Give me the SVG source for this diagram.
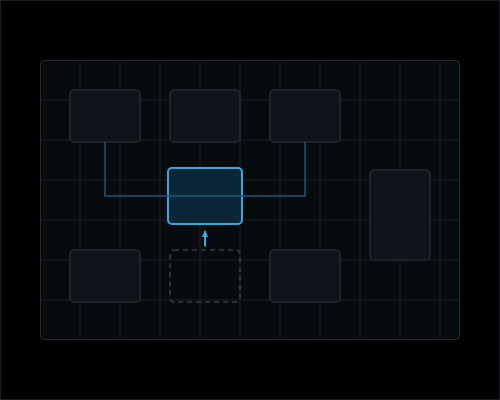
<svg xmlns="http://www.w3.org/2000/svg" width="500" height="400" viewBox="0 0 500 400">
<defs>
<style>
.node{fill:#0f141a;stroke:#252b33;stroke-width:1.5}
.grid line{stroke:#141a20;stroke-width:1.5}
.conn{fill:none;stroke:#1d5a7a;stroke-width:1.5}
</style>
<marker id="ah" viewBox="0 0 10 10" refX="5" refY="1" markerWidth="6" markerHeight="7" markerUnits="userSpaceOnUse" orient="auto-start-reverse">
<path d="M0,10 L5,0 L10,10 Z" fill="#3ba7e0"/>
</marker>
</defs>
<rect x="0.5" y="0.5" width="499" height="399" fill="#000" stroke="#1a1f25" stroke-width="1"/>
<rect x="40.5" y="60.5" width="419" height="279" rx="4" fill="#080b0e" stroke="#262b32" stroke-width="1"/>
<g class="grid">
<line x1="80" y1="61" x2="80" y2="339"/>
<line x1="120" y1="61" x2="120" y2="339"/>
<line x1="160" y1="61" x2="160" y2="339"/>
<line x1="200" y1="61" x2="200" y2="339"/>
<line x1="240" y1="61" x2="240" y2="339"/>
<line x1="280" y1="61" x2="280" y2="339"/>
<line x1="320" y1="61" x2="320" y2="339"/>
<line x1="360" y1="61" x2="360" y2="339"/>
<line x1="400" y1="61" x2="400" y2="339"/>
<line x1="440" y1="61" x2="440" y2="339"/>
<line x1="41" y1="100" x2="459" y2="100"/>
<line x1="41" y1="140" x2="459" y2="140"/>
<line x1="41" y1="180" x2="459" y2="180"/>
<line x1="41" y1="220" x2="459" y2="220"/>
<line x1="41" y1="260" x2="459" y2="260"/>
<line x1="41" y1="300" x2="459" y2="300"/>
</g>
<g id="n-top-left"><rect class="node" x="70" y="90" width="70" height="52" rx="4"/></g>
<g id="n-top-mid"><rect class="node" x="170" y="90" width="70" height="52" rx="4"/></g>
<g id="n-top-right"><rect class="node" x="270" y="90" width="70" height="52" rx="4"/></g>
<g id="n-center"><rect x="168" y="168" width="74" height="56" rx="4" fill="#0c2636" stroke="#3ba7e0" stroke-width="2"/></g>
<g id="n-right"><rect class="node" x="370" y="170" width="60" height="90" rx="4"/></g>
<g id="n-bot-left"><rect class="node" x="70" y="250" width="70" height="52" rx="4"/></g>
<g id="n-bot-mid"><rect x="170" y="250" width="70" height="52" rx="4" fill="none" stroke="#3a4049" stroke-width="1.5" stroke-dasharray="5,4"/></g>
<g id="n-bot-right"><rect class="node" x="270" y="250" width="70" height="52" rx="4"/></g>
<g id="connectors">
<path class="conn" d="M105,142 V196 H305 V142"/>
<line x1="205" y1="246.5" x2="205" y2="236" stroke="#3ba7e0" stroke-width="2"/>
<path d="M202,237 L205,229.5 L208,237 Z" fill="#3ba7e0"/>
</g>
</svg>
